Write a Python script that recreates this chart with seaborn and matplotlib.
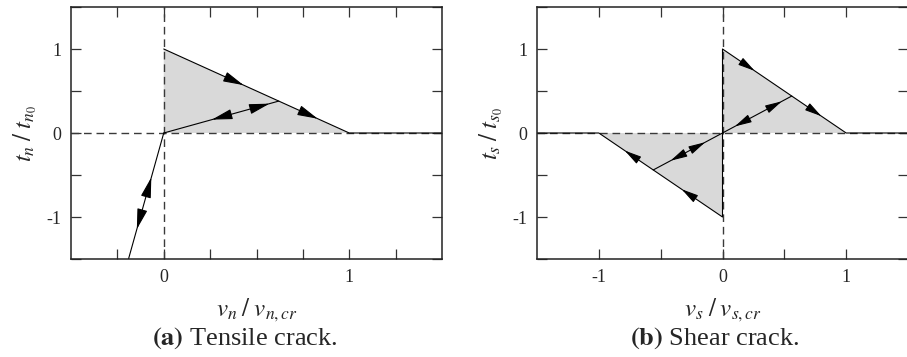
import numpy as np
import seaborn as sns
import matplotlib.pyplot as plt

# (a) tensile crack
tens_env_x = [0.0, 1.0, 1.5]
tens_env_y = [1.0, 0.0, 0.0]
tens_comp_x = [0.0, -0.19]
tens_comp_y = [0.0, -1.5]
tens_unl_x = [0.0, 0.62]
tens_unl_y = [0.0, 0.38]
tens_fill_x = [0.0, 0.0, 1.0]
tens_fill_y = [0.0, 1.0, 0.0]
# arrow tips: x position, which line, direction of travel in x
tens_arrow_x = [0.43, 0.83, 0.26, 0.57, -0.067, -0.145]
tens_arrow_line = ['env', 'env', 'unl', 'unl', 'comp', 'comp']
tens_arrow_dir = [1, 1, -1, 1, 1, -1]

# (b) shear crack
shear_env_x = [-1.5, -1.0, 0.0, 0.0, 1.0, 1.5]
shear_env_y = [0.0, 0.0, -1.0, 1.0, 0.0, 0.0]
shear_unl_x = [-0.56, 0.56]
shear_unl_y = [-0.44, 0.44]
shear_fill_pos_x = [0.0, 0.0, 1.0]
shear_fill_pos_y = [0.0, 1.0, 0.0]
shear_fill_neg_x = [0.0, 0.0, -1.0]
shear_fill_neg_y = [0.0, -1.0, 0.0]
shear_arrow_x = [0.26, 0.80, -0.33, -0.79, 0.48, 0.10, -0.14, -0.42]
shear_arrow_line = ['pos', 'pos', 'neg', 'neg', 'unl', 'unl', 'unl', 'unl']
shear_arrow_dir = [1, 1, -1, -1, 1, -1, 1, -1]

sns.set_theme(style="ticks")
plt.rcParams['font.family'] = ['Liberation Serif', 'DejaVu Serif']
plt.rcParams['mathtext.fontset'] = 'stix'

fig = plt.figure(figsize=(9.07, 3.57), dpi=100)
W, H = 907, 357
ax1 = fig.add_axes([71 / W, 1 - 259 / H, (442 - 71) / W, (259 - 7) / H])
ax2 = fig.add_axes([537 / W, 1 - 259 / H, (908 - 537) / W, (259 - 7) / H])

line_kw = dict(color='black', lw=0.8, sort=False, estimator=None, legend=False)
dash_kw = dict(color='#3a3a3a', lw=1.0, ls=(0, (5.5, 3.5)), zorder=1)
fill_col = '#d9d9d9'


def draw_arrow(ax, xs, ys, x_tip, direction, size):
    order = np.argsort(xs)
    y_tip = float(np.interp(x_tip, np.array(xs)[order], np.array(ys)[order]))
    dx = xs[-1] - xs[0]
    dy = ys[-1] - ys[0]
    s = np.sign(dx) / np.hypot(dx, dy)
    ux, uy = dx * s, dy * s  # unit vector pointing to increasing x
    back = 0.05 * direction
    tail = (x_tip - back * ux, y_tip - back * uy)
    ax.annotate('', xy=(x_tip, y_tip), xytext=tail,
                arrowprops=dict(arrowstyle='-|>,head_length=1.2,head_width=0.3',
                                color='black', lw=0.8, mutation_scale=size,
                                shrinkA=0, shrinkB=0), zorder=5)


def style_axes(ax, xlim, xmajor, xminor):
    ax.set_xlim(*xlim)
    ax.set_ylim(-1.5, 1.5)
    ax.set_xticks(xminor, minor=True)
    ax.set_xticks(xmajor)
    ax.set_xticklabels([str(int(v)) for v in xmajor])
    ax.set_yticks([-1.5, -0.5, 0.5, 1.5], minor=True)
    ax.set_yticks([-1, 0, 1])
    ax.set_yticklabels(['-1', '0', '1'])
    ax.tick_params(which='both', direction='in', top=True, right=True,
                   length=7, width=0.9, color='#333333', labelsize=13, pad=7)
    for s in ax.spines.values():
        s.set_linewidth(1.1)
        s.set_color('#222222')


# ---- (a) ----
ax1.fill(tens_fill_x, tens_fill_y, color=fill_col, lw=0, zorder=0)
ax1.axhline(0, **dash_kw)
ax1.axvline(0, **dash_kw)
sns.lineplot(x=tens_env_x, y=tens_env_y, ax=ax1, **line_kw)
sns.lineplot(x=tens_comp_x, y=tens_comp_y, ax=ax1, **line_kw)
sns.lineplot(x=tens_unl_x, y=tens_unl_y, ax=ax1, **line_kw)
style_axes(ax1, (-0.5, 1.5), [0, 1], [-0.25, 0.25, 0.5, 0.75, 1.25])
tens_lines = {'env': (tens_env_x[:2], tens_env_y[:2]),
              'unl': (tens_unl_x, tens_unl_y),
              'comp': (tens_comp_x, tens_comp_y)}
for xa, ln, d in zip(tens_arrow_x, tens_arrow_line, tens_arrow_dir):
    xs, ys = tens_lines[ln]
    draw_arrow(ax1, xs, ys, xa, d, 10.5)
ax1.set_xlabel(r'$v_n\;/\;v_{n,cr}$', fontsize=18, labelpad=8)
ax1.set_ylabel(r'$t_n\;/\;t_{n_0}$', fontsize=18, labelpad=5)

# ---- (b) ----
ax2.fill(shear_fill_pos_x, shear_fill_pos_y, color=fill_col, lw=0, zorder=0)
ax2.fill(shear_fill_neg_x, shear_fill_neg_y, color=fill_col, lw=0, zorder=0)
ax2.axhline(0, **dash_kw)
ax2.axvline(0, **dash_kw)
sns.lineplot(x=shear_env_x, y=shear_env_y, ax=ax2, **line_kw)
sns.lineplot(x=shear_unl_x, y=shear_unl_y, ax=ax2, **line_kw)
style_axes(ax2, (-1.5, 1.5), [-1, 0, 1], [-0.5, 0.5])
shear_lines = {'pos': ([0.0, 1.0], [1.0, 0.0]),
               'neg': ([-1.0, 0.0], [0.0, -1.0]),
               'unl': (shear_unl_x, shear_unl_y)}
for xa, ln, d in zip(shear_arrow_x, shear_arrow_line, shear_arrow_dir):
    xs, ys = shear_lines[ln]
    draw_arrow(ax2, xs, ys, xa, d, 8.5)
ax2.set_xlabel(r'$v_s\;/\;v_{s,cr}$', fontsize=18, labelpad=8)
ax2.set_ylabel(r'$t_s\;/\;t_{s_0}$', fontsize=18, labelpad=5)

fig.text(245 / W, 1 - 338 / H, r'$\mathbf{(a)}$ Tensile crack.', ha='center',
         va='center', fontsize=19)
fig.text(715 / W, 1 - 338 / H, r'$\mathbf{(b)}$ Shear crack.', ha='center',
         va='center', fontsize=19)

fig.savefig('out.png', dpi=100)
